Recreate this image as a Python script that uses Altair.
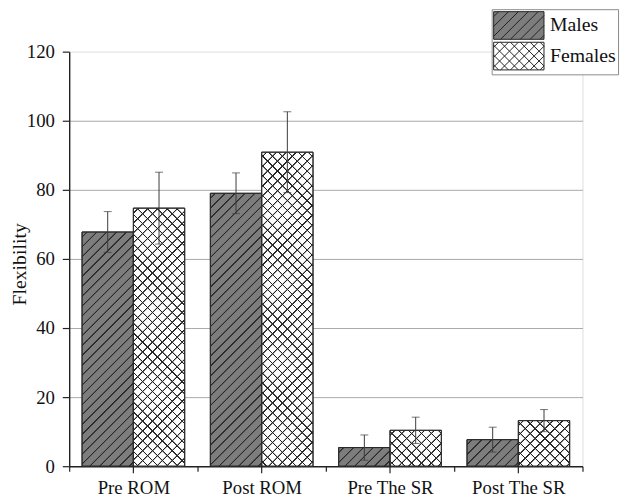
import json
import altair as alt
import pandas as pd

categories = ["Pre ROM", "Post ROM", "Pre The SR", "Post The SR"]
groups = ["Males", "Females"]
males_mean = [67.8, 79.0, 5.4, 7.7]
males_err = [5.9, 5.9, 3.65, 3.6]
females_mean = [74.7, 90.9, 10.4, 13.2]
females_err = [10.4, 11.7, 3.8, 3.2]

rows = []
for i, c in enumerate(categories):
    rows.append({"cat": c, "sex": "Males", "value": males_mean[i], "err": males_err[i]})
    rows.append({"cat": c, "sex": "Females", "value": females_mean[i], "err": females_err[i]})
df = pd.DataFrame(rows)

FONT = "Liberation Serif"
W, H = 520, 420
PX_PER_UNIT = H / 120.0
BAR_W = 52.0
D = 400.0  # gradient length in (x+y) pixel units


def stripe_stops(bg, fg, period=10.0):
    stops = [{"offset": 0, "color": bg}]
    k = 0
    while (k + 1) * period <= D:
        b = k * period
        for off, col in ((4.0, bg), (4.6, fg), (5.6, fg), (6.2, bg)):
            stops.append({"offset": round((b + off) / D, 5), "color": col})
        k += 1
    stops.append({"offset": 1, "color": bg})
    return json.dumps(stops)


male_stops = stripe_stops("#7d7d7d", "#2a2a2a")
fem_stops = stripe_stops("#ffffff", "#222222")
fem_over_stops = stripe_stops("rgba(255,255,255,0)", "#222222")

h_expr = f"(datum.value*{PX_PER_UNIT})"
c_expr = f"({D}/({BAR_W*BAR_W}+{h_expr}*{h_expr}))"
grad_fwd = (
    "{gradient:'linear', x1:0, y1:0, x2:" + c_expr + "*" + str(BAR_W)
    + ", y2:" + c_expr + "*" + h_expr + ", stops: STOPS}"
)
grad_back = (
    "{gradient:'linear', x1:0, y1:1, x2:" + c_expr + "*" + str(BAR_W)
    + ", y2:1-" + c_expr + "*" + h_expr + ", stops: STOPS}"
)
base_expr = (
    "datum.sex == 'Males' ? " + grad_fwd.replace("STOPS", male_stops)
    + " : " + grad_fwd.replace("STOPS", fem_stops)
)
over_expr = grad_back.replace("STOPS", fem_over_stops)

# legend swatch paths (custom symbol, 1 unit = R px)
R = 14.0
SW, SH = 25.5, 14.0


def seg(x1, y1, x2, y2):
    return f"M{x1/R:.3f},{y1/R:.3f}L{x2/R:.3f},{y2/R:.3f}"


def hatch(direction, spacing=10.0):
    parts = []
    c = -SW - SH + spacing / 2
    while c < SW + SH:
        xa, xb = max(-SW, c - SH), min(SW, c + SH)
        if direction == "back":
            xa, xb = max(-SW, -SH + c), min(SW, SH + c)
        if xb > xa:
            if direction == "fwd":  # x + y = c
                parts.append(seg(xa, c - xa, xb, c - xb))
            else:  # x - y = c
                parts.append(seg(xa, xa - c, xb, xb - c))
        c += spacing
    return "".join(parts)


rect = f"M{-SW/R:.3f},{-SH/R:.3f}H{SW/R:.3f}V{SH/R:.3f}H{-SW/R:.3f}Z"
male_shape = rect + hatch("fwd")
fem_shape = rect + hatch("fwd") + hatch("back")

x_enc = alt.X(
    "cat:N",
    sort=categories,
    scale=alt.Scale(domain=categories, paddingInner=0, paddingOuter=0),
    axis=alt.Axis(
        title=None,
        labelAngle=0,
        labelFont=FONT,
        labelFontSize=19,
        labelColor="#111",
        labelPadding=8,
        tickBand="extent",
        tickSize=5,
        tickColor="#222",
        tickWidth=1.2,
        domainColor="#222",
        domainWidth=1.4,
        grid=False,
    ),
)
xoff_enc = alt.XOffset(
    "sex:N", sort=groups,
    scale=alt.Scale(domain=groups, paddingInner=0, paddingOuter=0.25),
)
y_enc = alt.Y(
    "value:Q",
    stack=None,
    scale=alt.Scale(domain=[0, 120], nice=False, zero=True),
    axis=alt.Axis(
        title="Flexibility",
        titleFont=FONT,
        titleFontSize=20,
        titleFontWeight="normal",
        titleColor="#111",
        titleAngle=-90,
        titleX=-50,
        titleY=215,
        titleAlign="center",
        titleBaseline="middle",
        values=list(range(0, 121, 10)),
        labelExpr="datum.value % 20 == 0 ? datum.label : ''",
        labelFont=FONT,
        labelFontSize=19,
        labelColor="#111",
        labelPadding=8,
        tickSize={"condition": {"test": "datum.value % 20 != 0", "value": 4}, "value": 7},
        tickColor="#222",
        tickWidth=1.2,
        domainColor="#222",
        domainWidth=1.4,
        grid=True,
        gridColor="#a9a9a9",
        gridWidth=1,
        gridOpacity={"condition": {"test": "datum.value == 120 || datum.value == 0", "value": 0}, "value": 1},
    ),
)

base = alt.Chart(df)

bars = base.mark_bar(stroke="#2a2a2a", strokeWidth=1).encode(
    x=x_enc, xOffset=xoff_enc, y=y_enc,
    fill=alt.Fill("grad:N", scale=None),
).transform_calculate(grad=base_expr)

overlay = base.mark_bar(strokeWidth=0).encode(
    x=x_enc, xOffset=xoff_enc, y=y_enc,
    fill=alt.Fill("grad:N", scale=None),
).transform_filter("datum.sex == 'Females'").transform_calculate(grad=over_expr)

outline = base.mark_bar(fillOpacity=0, stroke="#2a2a2a", strokeWidth=1).encode(
    x=x_enc, xOffset=xoff_enc, y=y_enc,
)

err_df = base.transform_calculate(lo="datum.value - datum.err", hi="datum.value + datum.err")

err_rule = err_df.mark_rule(color="#3a3a3a", strokeWidth=1).encode(
    x=x_enc, xOffset=xoff_enc, y="lo:Q", y2="hi:Q",
)
cap_hi = err_df.mark_tick(color="#3a3a3a", thickness=1, size=8).encode(
    x=x_enc, xOffset=xoff_enc, y="hi:Q",
)
cap_lo = err_df.mark_tick(color="#3a3a3a", thickness=1, size=8).encode(
    x=x_enc, xOffset=xoff_enc, y="lo:Q",
)

center_ticks = base.transform_filter("datum.sex == 'Males'").mark_rule(
    color="#222", strokeWidth=1.2
).encode(x=x_enc, y=alt.value(H), y2=alt.value(H + 7))


def make_legend():
    return alt.Legend(
        title=None,
        orient="none",
        legendX=428,
        legendY=-43,
        labelFont=FONT,
        labelFontSize=20,
        labelColor="#111",
        labelOffset=17,
        symbolSize=R * R * 4,
        symbolOffset=11,
        symbolStrokeWidth=1,
        symbolOpacity=1,
        padding=2,
        strokeColor="#8a8a8a",
        fillColor="white",
        rowPadding=-2,
    )


legend_layer = base.transform_filter("false").mark_point(
    filled=True, opacity=1, strokeWidth=1
).encode(
    color=alt.Color(
        "sex:N",
        scale=alt.Scale(domain=groups, range=["#7d7d7d", "#ffffff"]),
        legend=make_legend(),
    ),
    stroke=alt.Stroke(
        "sex:N",
        scale=alt.Scale(domain=groups, range=["#222222", "#222222"]),
        legend=make_legend(),
    ),
    shape=alt.Shape(
        "sex:N",
        scale=alt.Scale(domain=groups, range=[male_shape, fem_shape]),
        legend=make_legend(),
    ),
)

chart = alt.layer(
    bars, overlay, outline, err_rule, cap_hi, cap_lo, center_ticks, legend_layer
).properties(
    width=W,
    height=H,
    autosize=alt.AutoSizeParams(type="none"),
    padding={"left": 62, "top": 41, "right": 39, "bottom": 31},
).configure_view(stroke=None).configure(background="white")

chart.save("out.html", embed_options={"renderer": "svg", "actions": False})
